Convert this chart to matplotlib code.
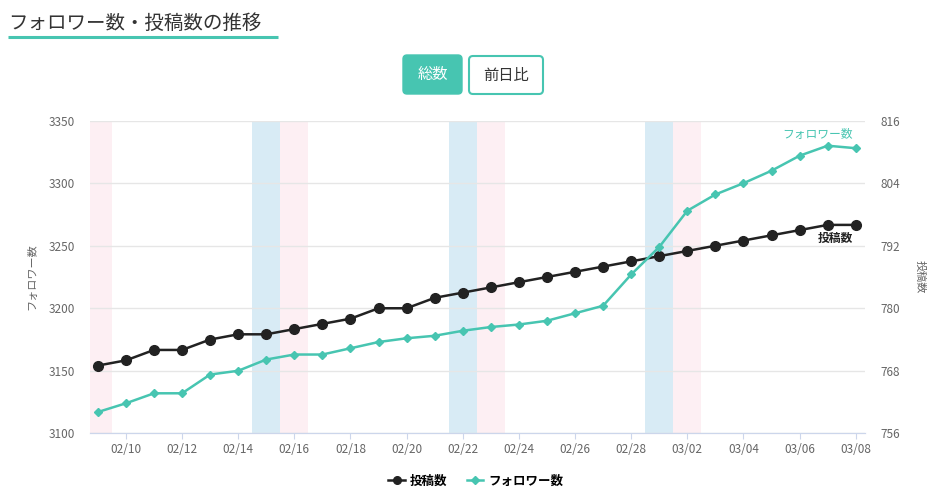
import matplotlib.pyplot as plt
import pandas as pd
from matplotlib.patches import FancyBboxPatch
from matplotlib.lines import Line2D

plt.rcParams['font.family'] = ['Noto Sans CJK JP', 'DejaVu Sans']

# 日付 (2025-02-09 .. 2025-03-08)
dates = pd.date_range('2025-02-09', '2025-03-08', freq='D')
date_labels = [d.strftime('%m/%d') for d in dates]

# 背景の帯 (土曜=青, 日曜=ピンク)
saturdays = ['02/15', '02/22', '03/01']
sundays = ['02/09', '02/16', '02/23', '03/02']

# フォロワー数 (左軸)
followers = [3117, 3124, 3132, 3132, 3147, 3150, 3159, 3163, 3163, 3168,
             3173, 3176, 3178, 3182, 3185, 3187, 3190, 3196, 3202, 3227,
             3249, 3278, 3291, 3300, 3310, 3322, 3330, 3328]
# 投稿数 (右軸)
posts = [769, 770, 772, 772, 774, 775, 775, 776, 777, 778,
         780, 780, 782, 783, 784, 785, 786, 787, 788, 789,
         790, 791, 792, 793, 794, 795, 796, 796]

left_ticks = [3100, 3150, 3200, 3250, 3300, 3350]
right_ticks = [756, 768, 780, 792, 804, 816]

GREEN = '#47c5b1'
BLACK = '#222222'
GRAY = '#666666'

fig = plt.figure(figsize=(9.34, 4.95), dpi=100)
ax2 = fig.add_axes([90 / 934, 61.7 / 495, 775 / 934, 312.6 / 495])
ax = ax2.twinx()
ax.set_zorder(ax2.get_zorder() + 1)
ax.patch.set_visible(False)

xs = list(range(len(dates)))

for i, lab in enumerate(date_labels):
    if lab in saturdays:
        ax2.axvspan(i - 0.5, i + 0.5, color='#d8ebf5', lw=0, zorder=0)
    elif lab in sundays:
        ax2.axvspan(i - 0.5, i + 0.5, color='#fdeff3', lw=0, zorder=0)

ax2.plot(xs, posts, color=BLACK, lw=1.8, marker='o', ms=7, zorder=3)
ax.plot(xs, followers, color=GREEN, lw=1.8, marker='D', ms=4, zorder=3)

ax2.set_xlim(-0.28, 27.33)
ax2.set_ylim(756, 816)
ax.set_ylim(3100, 3350)
ax2.set_yticks(right_ticks)
ax.set_yticks(left_ticks)
# ax2 は右軸、ax は左軸
ax2.yaxis.tick_right()
ax2.yaxis.set_label_position('right')
ax.yaxis.tick_left()
ax.yaxis.set_label_position('left')

ax2.grid(axis='y', color='#e6e6e6', lw=1, zorder=1)
ax2.set_axisbelow(True)

ax2.set_xticks(xs[1::2])
ax2.set_xticklabels(date_labels[1::2])

for a in (ax, ax2):
    for s in ('top', 'left', 'right'):
        a.spines[s].set_visible(False)
    a.spines['bottom'].set_color('#ccd6eb')
    a.tick_params(axis='y', length=0, pad=11, labelsize=8.5, labelcolor=GRAY)
ax2.tick_params(axis='x', length=4, color='#ccd6eb', pad=3, labelsize=8.5, labelcolor=GRAY)

ax.set_ylabel('フォロワー数', color=GRAY, fontsize=8, labelpad=8)
ax2.set_ylabel('投稿数', color=GRAY, fontsize=8, rotation=-90, labelpad=18)

# 線の末尾ラベル
ax.annotate('フォロワー数', xy=(xs[-1], followers[-1]), xytext=(-2, 10),
            textcoords='offset points', ha='right', va='center',
            color=GREEN, fontsize=8.5)
ax2.annotate('投稿数', xy=(xs[-1], posts[-1]), xytext=(-2, -10),
             textcoords='offset points', ha='right', va='center',
             color=BLACK, fontsize=8.5, fontweight='bold')

# 凡例
handles = [Line2D([], [], color=BLACK, lw=1.8, marker='o', ms=5.5),
           Line2D([], [], color=GREEN, lw=1.8, marker='D', ms=4)]
fig.legend(handles, ['投稿数', 'フォロワー数'], loc='center',
           bbox_to_anchor=(476 / 934, 1 - 481 / 495), ncol=2, frameon=False,
           handlelength=1.3, handletextpad=0.4, columnspacing=1.6,
           prop={'weight': 'bold', 'size': 9})

# タイトルとボタン (ピクセル座標)
ov = fig.add_axes([0, 0, 1, 1], zorder=10)
ov.set_xlim(0, 934)
ov.set_ylim(495, 0)
ov.axis('off')
ov.text(8, 23, 'フォロワー数・投稿数の推移', fontsize=14, color='#333333',
        ha='left', va='center')
ov.plot([8, 278], [37, 37], color=GREEN, lw=2.2, solid_capstyle='butt')

ov.add_patch(FancyBboxPatch((403, 55), 59, 39, boxstyle='round,pad=0,rounding_size=4',
                            fc=GREEN, ec=GREEN, lw=1))
ov.text(432.5, 75, '総数', color='white', fontsize=11, ha='center', va='center')
ov.add_patch(FancyBboxPatch((469, 56), 74, 38, boxstyle='round,pad=0,rounding_size=4',
                            fc='white', ec=GREEN, lw=1.5))
ov.text(506, 75, '前日比', color='#333333', fontsize=11, ha='center', va='center')

fig.savefig('out.png', dpi=100)
